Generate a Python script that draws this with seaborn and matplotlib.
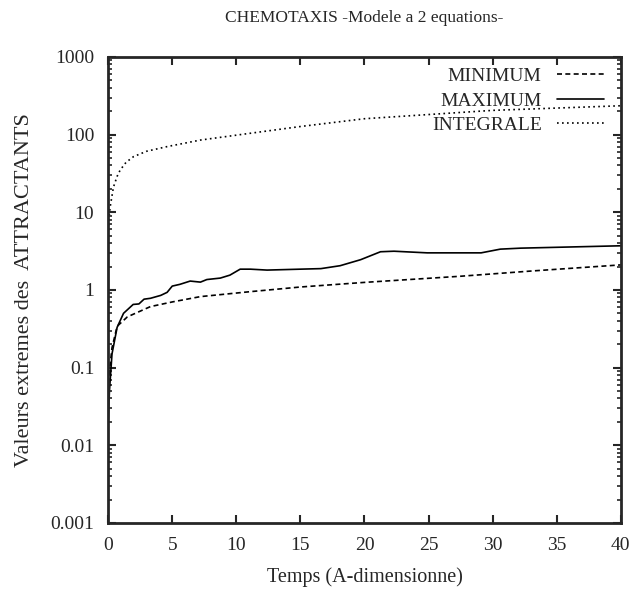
import numpy as np
import pandas as pd
import matplotlib
matplotlib.use("Agg")
import matplotlib.pyplot as plt
import matplotlib.ticker as mticker
import seaborn as sns

# valeurs
t_min = [0.0, 0.1, 0.3, 0.7, 1.5, 3.3, 5.0, 7.2, 11.1, 15.0, 20.0, 27.5, 33.0, 40.0]
v_min = [0.03, 0.09, 0.18, 0.34, 0.45, 0.61, 0.70, 0.82, 0.95, 1.09, 1.25, 1.5, 1.75, 2.1]

t_max = [0.0, 0.1, 0.3, 0.7, 1.2, 1.95, 2.4, 2.8, 3.3, 4.1, 4.6, 5.0, 5.6, 6.4, 7.2, 7.7,
         8.75, 9.5, 10.3, 11.1, 12.4, 15.0, 16.6, 18.1, 19.7, 21.25, 22.3, 24.9, 29.1,
         30.6, 32.2, 40.0]
v_max = [0.02, 0.05, 0.15, 0.33, 0.5, 0.65, 0.66, 0.76, 0.78, 0.85, 0.93, 1.12, 1.18, 1.3,
         1.26, 1.36, 1.42, 1.55, 1.85, 1.85, 1.8, 1.85, 1.88, 2.05, 2.45, 3.1, 3.15, 3.0,
         3.0, 3.35, 3.45, 3.7]

t_int = [0.0, 0.05, 0.16, 0.41, 0.7, 0.94, 1.4, 1.98, 3.0, 4.6, 7.2, 11.1, 15.0, 20.0, 30.0, 40.0]
v_int = [5.0, 8.0, 11.8, 21.0, 29.0, 35.0, 44.0, 52.0, 61.0, 70.0, 85.0, 104.0, 127.0, 160.0,
         205.0, 235.0]

sns.set_style("ticks")
plt.rcParams['font.family'] = ['Liberation Serif', 'DejaVu Serif']

fig = plt.figure(figsize=(6.4, 5.99), dpi=100)
ax = fig.add_axes([0.169, 0.127, 0.801, 0.778])

sns.lineplot(x=t_min, y=v_min, ax=ax, color="black", lw=1.2, label="MINIMUM",
             linestyle=(0, (3, 2)))
sns.lineplot(x=t_max, y=v_max, ax=ax, color="black", lw=1.2, label="MAXIMUM")
sns.lineplot(x=t_int, y=v_int, ax=ax, color="black", lw=1.2, label="INTEGRALE",
             linestyle=(0, (1, 2)))

ax.set_yscale("log")
ax.set_xlim(0, 40)
ax.set_ylim(0.001, 1000)
ax.set_xticks(range(0, 41, 5))
ax.set_yticks([0.001, 0.01, 0.1, 1, 10, 100, 1000])
ax.set_yticklabels(["0.001", "0.01", "0.1", "1", "10", "100", "1000"])
ax.yaxis.set_minor_locator(mticker.LogLocator(base=10, subs=np.arange(2, 10)))
ax.yaxis.set_minor_formatter(mticker.NullFormatter())
ax.tick_params(which="both", direction="in", top=True, right=True, labelsize=14, pad=10)
ax.tick_params(which="major", length=6, width=1.5)
ax.tick_params(which="minor", length=3, width=1.2)
for s in ax.spines.values():
    s.set_linewidth(2)

ax.set_xlabel("Temps (A-dimensionne)", fontsize=14.5, labelpad=10)
ax.set_ylabel("Valeurs extremes des  ATTRACTANTS", fontsize=16, labelpad=12)
ax.set_title("CHEMOTAXIS -Modele a 2 equations-", fontsize=12.5, pad=25)

leg = ax.legend(loc="upper right", bbox_to_anchor=(0.988, 1.0), frameon=False,
                markerfirst=False, fontsize=14, handlelength=2.4,
                labelspacing=0.35, borderaxespad=0.15)
for txt in leg.get_texts():
    txt.set_ha("right")

plt.savefig("out.png", dpi=100)
